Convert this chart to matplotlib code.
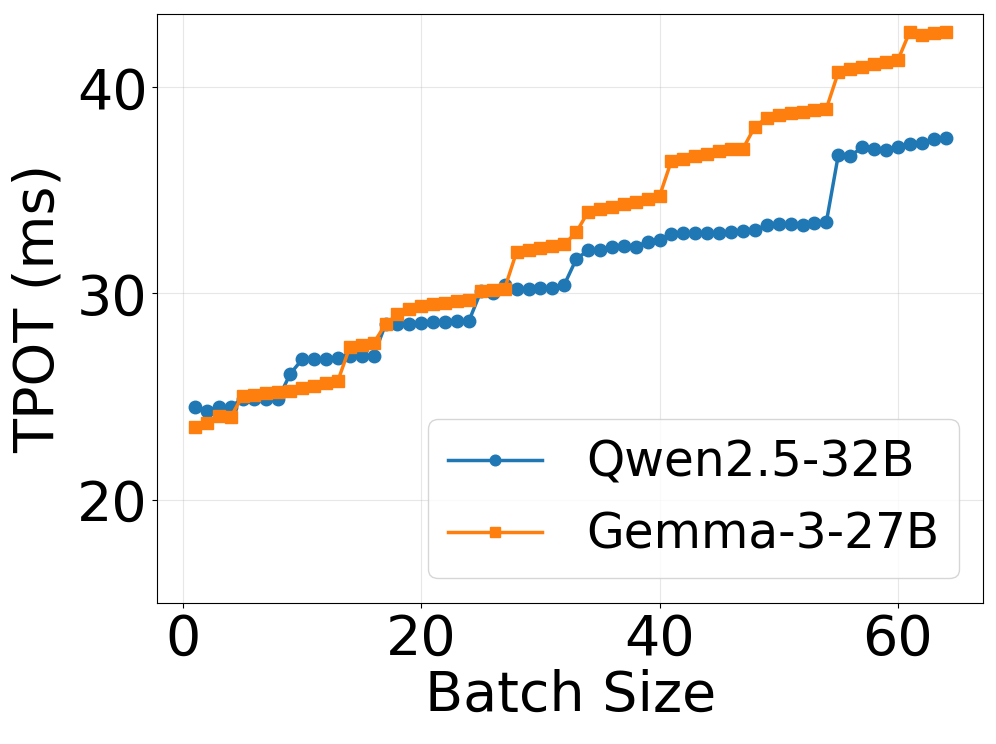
import numpy as np
import matplotlib
matplotlib.use("Agg")
import matplotlib.pyplot as plt

# batch sizes 1..64
batch = list(range(1, 65))

# TPOT (ms)
qwen = [24.5, 24.3, 24.5, 24.5, 24.9, 24.9, 24.9, 24.9, 26.1, 26.8,
        26.8, 26.8, 26.85, 26.95, 26.98, 26.98, 28.5, 28.5, 28.5, 28.55,
        28.6, 28.62, 28.65, 28.67, 30.1, 30.0, 30.4, 30.2, 30.24, 30.28,
        30.28, 30.42, 31.66, 32.1, 32.12, 32.27, 32.3, 32.27, 32.52, 32.6,
        32.87, 32.92, 32.95, 32.95, 32.95, 33.0, 33.04, 33.08, 33.33, 33.36,
        33.36, 33.31, 33.41, 33.47, 36.71, 36.67, 37.09, 36.99, 36.96, 37.12,
        37.24, 37.32, 37.48, 37.53]

gemma = [23.5, 23.71, 24.04, 23.99, 25.04, 25.07, 25.15, 25.2, 25.25, 25.4,
         25.49, 25.65, 25.76, 27.4, 27.49, 27.59, 28.51, 28.99, 29.24, 29.37,
         29.47, 29.56, 29.64, 29.67, 30.1, 30.17, 30.24, 32.02, 32.11, 32.23,
         32.31, 32.39, 32.96, 33.96, 34.09, 34.22, 34.33, 34.44, 34.57, 34.73,
         36.45, 36.54, 36.67, 36.79, 36.91, 36.99, 37.03, 38.09, 38.53, 38.64,
         38.74, 38.8, 38.89, 38.97, 40.73, 40.87, 41.0, 41.13, 41.21, 41.32,
         42.7, 42.54, 42.65, 42.7]

fig, ax = plt.subplots(figsize=(9.96, 7.44), dpi=100)
fig.subplots_adjust(left=0.158, right=0.987, top=0.981, bottom=0.19)

ax.plot(batch, qwen, marker='o', markersize=9, linewidth=2.5,
        color='#1f77b4', label='Qwen2.5-32B')
ax.plot(batch, gemma, marker='s', markersize=9, linewidth=2.5,
        color='#ff7f0e', label='Gemma-3-27B')

ax.set_ylim(15, max(max(qwen), max(gemma)) * 1.02)
ax.set_yticks([20, 30, 40])
ax.set_xticks([0, 20, 40, 60])
ax.tick_params(labelsize=40)
ax.set_xlabel('Batch Size', fontsize=40, labelpad=2)
ax.set_ylabel('TPOT (ms)', fontsize=40, labelpad=8)
ax.grid(True, alpha=0.3)
ax.legend(fontsize=35, loc='lower right', markerscale=0.85,
          handlelength=1.95, handletextpad=0.9)

plt.savefig('out.png', dpi=100)
